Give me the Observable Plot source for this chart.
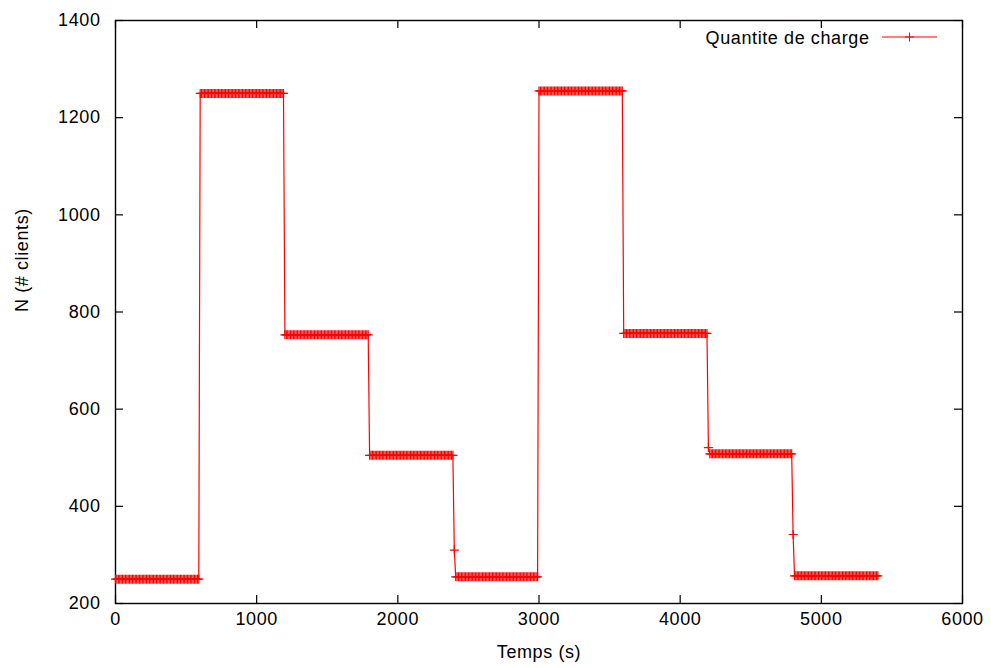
<!DOCTYPE html>
<html><head><meta charset="utf-8">
<script src="https://cdn.jsdelivr.net/npm/d3@7"></script>
<script src="https://cdn.jsdelivr.net/npm/@observablehq/plot@0.6"></script>
<style>html,body{margin:0;padding:0;background:#fff}</style>
</head><body><div id="chart"></div>
<script>
// Data
const phaseStart = [0, 600, 1200, 1800, 2400, 3000, 3600, 4200, 4800];
const phaseLevel = [250, 1250, 753, 505, 255, 1255, 756, 508, 257];
const transientTime = [2400, 4200, 4800];
const transientValue = [310, 521, 342];
const sampleStep = 10;
const endTime = 5400;
const xTicks = [0, 1000, 2000, 3000, 4000, 5000, 6000];
const yTicks = [200, 400, 600, 800, 1000, 1200, 1400];
const seriesName = "Quantite de charge";
const xLabel = "Temps (s)";
const yLabel = "N (# clients)";

const data = [];
for (let t = 0; t <= endTime; t += sampleStep) {
  const k = transientTime.indexOf(t);
  let i = 0;
  for (let j = 0; j < phaseStart.length; j++) if (phaseStart[j] <= t) i = j;
  data.push({t, n: k >= 0 ? transientValue[k] : phaseLevel[i]});
}

const plus = {draw(ctx, size) {
  const r = Math.sqrt(size / Math.PI);
  ctx.moveTo(-r, 0); ctx.lineTo(r, 0);
  ctx.moveTo(0, -r); ctx.lineTo(0, r);
}};

const W = 991, H = 668, mL = 115, mR = 29, mT = 20, mB = 65;
const innerW = W - mL - mR, innerH = H - mT - mB, tick = 8;

const legend = (index, scales, values, dims) => {
  const g = d3.create("svg:g");
  const x1 = dims.width - dims.marginRight - 80, x2 = dims.width - dims.marginRight - 25;
  const y = dims.marginTop + 17, xc = (x1 + x2) / 2, r = 4.5;
  g.append("path").attr("d", `M${x1},${y}H${x2}`).attr("stroke", "red").attr("fill", "none");
  g.append("path").attr("d", `M${xc - r},${y}H${xc + r}M${xc},${y - r}V${y + r}`).attr("stroke", "red").attr("fill", "none");
  return g.node();
};

const chart = Plot.plot({
  width: W, height: H,
  marginLeft: mL, marginRight: mR, marginTop: mT, marginBottom: mB,
  style: {fontFamily: "'Liberation Sans', Arial, sans-serif", fontSize: "18px", letterSpacing: "0.6px", background: "white", color: "black"},
  x: {domain: [0, 6000]},
  y: {domain: [200, 1400]},
  marks: [
    Plot.gridX(xTicks, {stroke: "black", strokeOpacity: 1, strokeWidth: 1.2, insetTop: innerH - tick}),
    Plot.gridX(xTicks, {stroke: "black", strokeOpacity: 1, strokeWidth: 1.2, insetBottom: innerH - tick}),
    Plot.gridY(yTicks, {stroke: "black", strokeOpacity: 1, strokeWidth: 1.2, insetRight: innerW - tick}),
    Plot.gridY(yTicks, {stroke: "black", strokeOpacity: 1, strokeWidth: 1.2, insetLeft: innerW - tick}),
    Plot.frame({stroke: "black", strokeWidth: 1.4}),
    Plot.axisX(xTicks, {anchor: "bottom", tickSize: 0, tickPadding: 9, label: null, tickFormat: "d"}),
    Plot.axisY(yTicks, {anchor: "left", tickSize: 0, tickPadding: 15, label: null, tickFormat: "d"}),
    Plot.text([xLabel], {frameAnchor: "bottom", text: d => d, dy: 49, lineAnchor: "middle"}),
    Plot.text([yLabel], {frameAnchor: "left", text: d => d, dx: -93, rotate: -90, lineAnchor: "middle"}),
    Plot.line(data, {x: "t", y: "n", stroke: "red", strokeWidth: 1.2}),
    Plot.dot(data, {x: "t", y: "n", symbol: plus, r: 4.5, stroke: "red", fill: "none", strokeWidth: 1.2}),
    Plot.text([seriesName], {frameAnchor: "top-right", text: d => d, textAnchor: "end", lineAnchor: "middle", dx: -93, dy: 18}),
    legend
  ]
});
document.getElementById("chart").appendChild(chart);
</script>
</body></html>
